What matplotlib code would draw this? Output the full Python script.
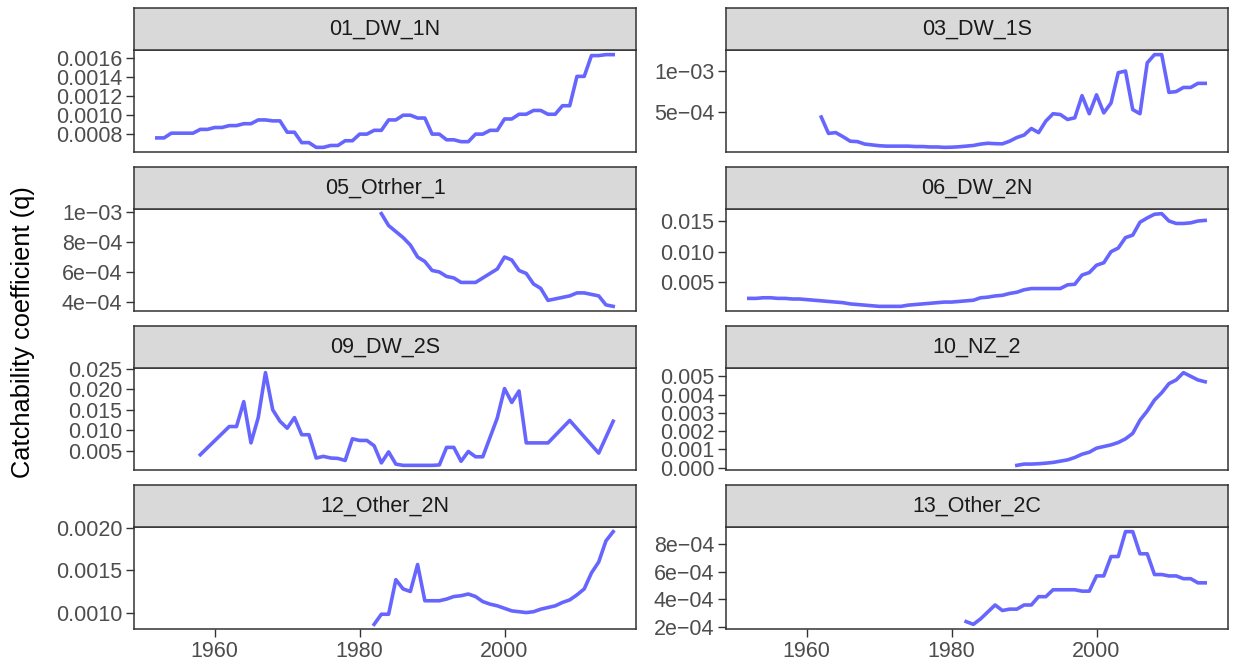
import matplotlib
matplotlib.use("Agg")
import matplotlib.pyplot as plt
from matplotlib.ticker import FixedLocator, FixedFormatter

plt.rcParams["font.family"] = ["Liberation Sans", "DejaVu Sans"]

# ---- data ----
years_01 = list(range(1952, 2016))
q_01 = [0.00076, 0.00076, 0.00081, 0.00081, 0.00081, 0.00081, 0.00085, 0.00085,
        0.00087, 0.00087, 0.00089, 0.00089, 0.00091, 0.00091, 0.00095, 0.00095,
        0.00094, 0.00094, 0.00082, 0.00082, 0.00071, 0.00071, 0.00066, 0.00066,
        0.00068, 0.00068, 0.00073, 0.00073, 0.00080, 0.00080, 0.00084, 0.00084,
        0.00095, 0.00095, 0.00100, 0.00100, 0.00097, 0.00097, 0.00080, 0.00080,
        0.00074, 0.00074, 0.00072, 0.00072, 0.00080, 0.00080, 0.00084, 0.00084,
        0.00096, 0.00096, 0.00101, 0.00101, 0.00105, 0.00105, 0.00101, 0.00101,
        0.00110, 0.00110, 0.00141, 0.00141, 0.00163, 0.00163, 0.00164, 0.00164]

years_03 = list(range(1962, 2016))
q_03 = [0.00044, 0.00024, 0.00025, 0.00020, 0.000145, 0.00014, 0.00011, 0.00010,
        0.00009, 0.000085, 0.000085, 0.000085, 0.000085, 0.00008, 0.00008, 0.000075,
        0.000075, 0.00007, 0.000072, 0.000077, 0.000085, 0.000093, 0.00011, 0.00012,
        0.000115, 0.000113, 0.000145, 0.00019, 0.00022, 0.00030, 0.00025, 0.00039,
        0.00048, 0.00047, 0.00041, 0.00043, 0.00070, 0.00048, 0.00071, 0.00049,
        0.00061, 0.00098, 0.00100, 0.00053, 0.00048, 0.00110, 0.00120, 0.00120,
        0.00074, 0.00075, 0.00080, 0.00080, 0.00085, 0.00085]

years_05 = list(range(1983, 2016))
q_05 = [0.00099, 0.00091, 0.00087, 0.00083, 0.00078, 0.00070, 0.00067, 0.00061,
        0.00060, 0.00057, 0.00056, 0.00053, 0.00053, 0.00053, 0.00056, 0.00059,
        0.00062, 0.00070, 0.00068, 0.00061, 0.00059, 0.00052, 0.00049, 0.00041,
        0.00042, 0.00043, 0.00044, 0.00046, 0.00046, 0.00045, 0.00044, 0.00038,
        0.00037]

years_06 = list(range(1952, 2016))
q_06 = [0.0024, 0.0024, 0.0025, 0.0025, 0.0024, 0.0024, 0.0023, 0.0023,
        0.0022, 0.0021, 0.0020, 0.0019, 0.0018, 0.0017, 0.0015, 0.0014,
        0.0013, 0.0012, 0.0011, 0.0011, 0.0011, 0.0011, 0.0013, 0.0014,
        0.0015, 0.0016, 0.0017, 0.0018, 0.0018, 0.0019, 0.0020, 0.0021,
        0.0025, 0.0026, 0.0028, 0.0029, 0.0032, 0.0034, 0.0038, 0.0040,
        0.0040, 0.0040, 0.0040, 0.0040, 0.0046, 0.0047, 0.0062, 0.0066,
        0.0078, 0.0082, 0.0100, 0.0106, 0.0123, 0.0127, 0.0148, 0.0155,
        0.0161, 0.0162, 0.0150, 0.0146, 0.0146, 0.0147, 0.0150, 0.0151]

years_09 = [1958, 1962, 1963, 1964, 1965, 1966, 1967, 1968, 1969, 1970, 1971,
            1972, 1973, 1974, 1975, 1976, 1977, 1978, 1979, 1980, 1981, 1982,
            1983, 1984, 1985, 1986, 1987, 1988, 1989, 1990, 1991, 1992, 1993,
            1994, 1995, 1996, 1997, 1999, 2000, 2001, 2002, 2003, 2006, 2009,
            2013, 2015]
q_09 = [0.0040, 0.0109, 0.0109, 0.0170, 0.0069, 0.0131, 0.0241, 0.0150, 0.0122,
        0.0105, 0.0131, 0.0089, 0.0089, 0.0032, 0.0036, 0.0032, 0.0031, 0.0026,
        0.0079, 0.0075, 0.0075, 0.0062, 0.0020, 0.0047, 0.0017, 0.0014, 0.0014,
        0.0014, 0.0014, 0.0014, 0.0015, 0.0058, 0.0058, 0.0024, 0.0048, 0.0035,
        0.0035, 0.0130, 0.0202, 0.0168, 0.0196, 0.0069, 0.0069, 0.0124, 0.0044,
        0.0122]

years_10 = list(range(1989, 2016))
q_10 = [0.00013, 0.00020, 0.00020, 0.00022, 0.00025, 0.00029, 0.00036, 0.00043,
        0.00056, 0.00074, 0.00085, 0.00107, 0.00116, 0.00125, 0.00138, 0.00158,
        0.00188, 0.00260, 0.00310, 0.00370, 0.00410, 0.00460, 0.00480, 0.00520,
        0.00500, 0.00480, 0.00470]

years_12 = list(range(1982, 2016))
q_12 = [0.00086, 0.00098, 0.00098, 0.00139, 0.00128, 0.00125, 0.00157, 0.00114,
        0.00114, 0.00114, 0.00116, 0.00119, 0.00120, 0.00122, 0.00119, 0.00113,
        0.00110, 0.00108, 0.00105, 0.00102, 0.00101, 0.00100, 0.00101, 0.00104,
        0.00106, 0.00108, 0.00112, 0.00115, 0.00121, 0.00128, 0.00147, 0.00160,
        0.00185, 0.00196]

years_13 = list(range(1982, 2016))
q_13 = [0.00024, 0.00022, 0.00026, 0.00031, 0.00036, 0.00032, 0.00033, 0.00033,
        0.00036, 0.00036, 0.00042, 0.00042, 0.00047, 0.00047, 0.00047, 0.00047,
        0.00046, 0.00046, 0.00057, 0.00057, 0.00071, 0.00071, 0.00089, 0.00089,
        0.00073, 0.00073, 0.00058, 0.00058, 0.00057, 0.00057, 0.00055, 0.00055,
        0.00052, 0.00052]

fleets = ["01_DW_1N", "03_DW_1S", "05_Otrher_1", "06_DW_2N",
          "09_DW_2S", "10_NZ_2", "12_Other_2N", "13_Other_2C"]
series = [(years_01, q_01), (years_03, q_03), (years_05, q_05), (years_06, q_06),
          (years_09, q_09), (years_10, q_10), (years_12, q_12), (years_13, q_13)]

y_ticks = [
    ([0.0008, 0.0010, 0.0012, 0.0014, 0.0016], ["0.0008", "0.0010", "0.0012", "0.0014", "0.0016"]),
    ([5e-4, 1e-3], ["5e\u221204", "1e\u221203"]),
    ([4e-4, 6e-4, 8e-4, 1e-3], ["4e\u221204", "6e\u221204", "8e\u221204", "1e\u221203"]),
    ([0.005, 0.010, 0.015], ["0.005", "0.010", "0.015"]),
    ([0.005, 0.010, 0.015, 0.020, 0.025], ["0.005", "0.010", "0.015", "0.020", "0.025"]),
    ([0.0, 0.001, 0.002, 0.003, 0.004, 0.005], ["0.000", "0.001", "0.002", "0.003", "0.004", "0.005"]),
    ([0.0010, 0.0015, 0.0020], ["0.0010", "0.0015", "0.0020"]),
    ([2e-4, 4e-4, 6e-4, 8e-4], ["2e\u221204", "4e\u221204", "6e\u221204", "8e\u221204"]),
]
x_ticks = [1960, 1980, 2000]

# ---- layout (pixels) ----
W, H = 1236, 666
col_left = [134, 726]
col_width = 502
panel_top0 = 50
row_pitch = 159
panel_h = 102
strip_h = 42

line_col = "#6666FF"
edge_col = "#333333"
tick_col = "#4D4D4D"

all_years = [y for ys, _ in series for y in ys]
x0, x1 = min(all_years), max(all_years)
xpad = 0.05 * (x1 - x0)

fig = plt.figure(figsize=(W / 100, H / 100), dpi=100)

for i, (name, (yrs, vals)) in enumerate(zip(fleets, series)):
    row, col = divmod(i, 2)
    left = col_left[col] / W
    top = panel_top0 + row * row_pitch
    ax = fig.add_axes([left, 1 - (top + panel_h) / H, col_width / W, panel_h / H])
    ax.plot(yrs, vals, color=line_col, lw=2.6, solid_joinstyle="round")
    ax.set_xlim(x0 - xpad, x1 + xpad)
    ax.margins(y=0.05)

    ticks, labels = y_ticks[i]
    ax.yaxis.set_major_locator(FixedLocator(ticks))
    ax.yaxis.set_major_formatter(FixedFormatter(labels))
    ax.set_xticks(x_ticks)
    ax.tick_params(colors=edge_col, labelcolor=tick_col, labelsize=15.5,
                   length=5.5, width=1.0, pad=3)
    if row < 3:
        ax.tick_params(axis="x", labelbottom=False, length=0)
    else:
        ax.tick_params(axis="x", pad=3)
    for sp in ax.spines.values():
        sp.set_color(edge_col)
        sp.set_linewidth(1.1)

    # facet strip
    sax = fig.add_axes([left, 1 - top / H, col_width / W, strip_h / H])
    sax.set_facecolor("#D9D9D9")
    sax.set_xticks([])
    sax.set_yticks([])
    for sp in sax.spines.values():
        sp.set_color(edge_col)
        sp.set_linewidth(1.1)
    sax.text(0.5, 0.5, name, ha="center", va="center", fontsize=15.5,
             color="#1A1A1A", transform=sax.transAxes)

fig.text(23 / W, 1 - 332 / H, "Catchability coefficient (q)", rotation=90,
         ha="center", va="center", fontsize=18.3, color="black")

fig.savefig("out.png", dpi=100)
